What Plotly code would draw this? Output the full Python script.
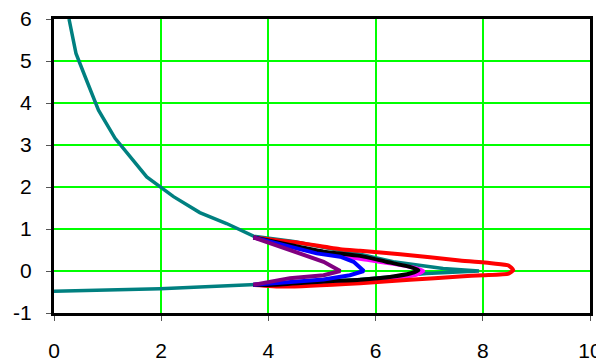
import plotly.graph_objects as go

# Teal: descending curve, loop out to the tip and back along the bottom
teal_x = [0.28, 0.41, 0.62, 0.83, 1.14, 1.73, 2.23, 2.72, 3.22, 3.72, 4.47, 5.71, 6.33, 7.26, 7.93,
          6.95, 6.33, 5.71, 4.9, 4.2, 3.72, 1.98, 0.0]
teal_y = [6.0, 5.18, 4.5, 3.83, 3.16, 2.24, 1.77, 1.39, 1.13, 0.83, 0.70, 0.40, 0.22, 0.06, 0.0,
          -0.06, -0.13, -0.2, -0.26, -0.3, -0.32, -0.42, -0.48]

red_x = [3.72, 4.22, 4.59, 5.34, 5.71, 6.46, 7.57, 8.2, 8.48, 8.57, 8.48, 8.01, 7.57, 6.64, 5.71, 4.28, 3.72]
red_y = [0.80, 0.72, 0.67, 0.52, 0.48, 0.40, 0.25, 0.18, 0.13, 0.02, -0.06, -0.10, -0.13, -0.21, -0.29, -0.37, -0.33]

magenta_x = [3.72, 4.4, 5.03, 5.87, 6.33, 6.75, 6.89, 6.75, 6.33, 5.71, 4.9, 4.1, 3.72]
magenta_y = [0.80, 0.58, 0.42, 0.26, 0.17, 0.07, 0.0, -0.09, -0.17, -0.25, -0.29, -0.33, -0.33]

black_x = [3.72, 4.4, 5.03, 5.71, 6.2, 6.64, 6.8, 6.64, 6.33, 5.71, 5.03, 4.1, 3.72]
black_y = [0.80, 0.62, 0.46, 0.36, 0.22, 0.10, 0.02, -0.06, -0.13, -0.21, -0.25, -0.33, -0.33]

blue_x = [3.72, 4.4, 4.9, 5.34, 5.59, 5.78, 5.52, 5.03, 4.22, 3.72]
blue_y = [0.80, 0.58, 0.42, 0.34, 0.22, 0.0, -0.10, -0.20, -0.29, -0.33]

purple_x = [3.72, 4.4, 5.03, 5.34, 5.03, 4.4, 3.72]
purple_y = [0.80, 0.50, 0.22, 0.0, -0.10, -0.17, -0.33]

x_ticks = [0, 2, 4, 6, 8, 10]
x_labels = ["0", "2", "4", "6", "8", "10"]
y_ticks = [-1, 0, 1, 2, 3, 4, 5, 6]
y_labels = ["-1", "0", "1", "2", "3", "4", "5", "6"]

fig = go.Figure()
series = [
    (teal_x, teal_y, "#008080", 3.5, "linear"),
    (magenta_x, magenta_y, "#FF00FF", 4, "spline"),
    (red_x, red_y, "#FF0000", 4, "spline"),
    (black_x, black_y, "#000000", 4, "spline"),
    (blue_x, blue_y, "#0000FF", 4, "linear"),
    (purple_x, purple_y, "#800080", 4, "linear"),
]
for xs, ys, c, w, sh in series:
    line = dict(color=c, width=w, shape=sh)
    if sh == "spline":
        line["smoothing"] = 0.5
    fig.add_trace(go.Scatter(x=xs, y=ys, mode="lines", line=line, showlegend=False))

font = dict(family="Liberation Sans, Arial, sans-serif", size=21, color="black")
fig.update_layout(
    width=596, height=353,
    margin=dict(l=46, r=14, t=11, b=48),
    paper_bgcolor="white", plot_bgcolor="white",
    font=font,
)
fig.update_xaxes(range=[0, 10], tickvals=x_ticks, ticktext=x_labels, showgrid=True,
                 gridcolor="#00FF00", gridwidth=1.5,
                 zeroline=False, showline=True, linecolor="black", linewidth=3, mirror=True,
                 ticks="outside", ticklen=5, tickcolor="#555555", tickwidth=1, automargin=False,
                 ticklabelstandoff=12, ticklabeloverflow="allow", tickfont=font)
fig.update_yaxes(range=[-1, 6], tickvals=y_ticks, ticktext=y_labels, showgrid=True,
                 gridcolor="#00FF00", gridwidth=1.5,
                 zeroline=False, showline=True, linecolor="black", linewidth=3, mirror=True,
                 ticks="outside", ticklen=5, tickcolor="#555555", tickwidth=1, automargin=False,
                 ticklabelstandoff=10, ticklabeloverflow="allow", tickfont=font)
fig.write_html("out.html")
